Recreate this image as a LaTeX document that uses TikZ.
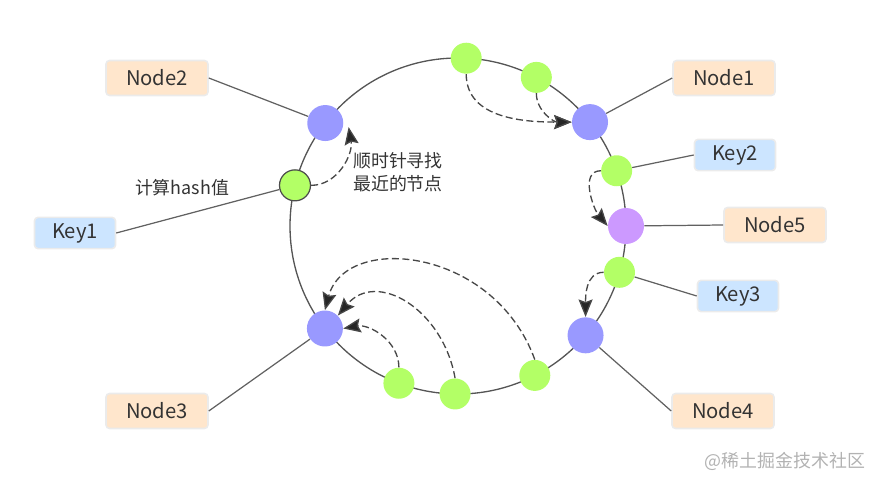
\documentclass[tikz,border=0pt]{standalone}
\usepackage{fontspec}
\setmainfont{Noto Sans CJK SC}
\usetikzlibrary{arrows.meta,calc}
\definecolor{ringink}{HTML}{555555}
\definecolor{textink}{HTML}{333333}
\definecolor{serverblue}{HTML}{9999FF}
\definecolor{hashgreen}{HTML}{B3FF66}
\definecolor{newpurple}{HTML}{CC99FF}
\definecolor{nodefill}{HTML}{FFE6CC}
\definecolor{keyfill}{HTML}{CCE5FF}
\tikzset{
  server/.style={circle, fill=serverblue, minimum size=0.72cm, inner sep=0pt},
  hashpt/.style={circle, fill=hashgreen, minimum size=0.62cm, inner sep=0pt},
  nodebox/.style={rounded corners=2pt, fill=nodefill, draw=black!8, line width=0.9pt,
    minimum width=2.04cm, minimum height=0.7cm, text=textink, font=\fontsize{11.5}{13}\selectfont},
  keybox/.style={nodebox, fill=keyfill, minimum width=1.62cm, minimum height=0.62cm},
  link/.style={draw=black!62, line width=0.7pt},
  walk/.style={draw=black!72, dash pattern=on 4pt off 2pt, line width=0.75pt,
    -{Stealth[length=10pt, width=8pt, inset=1.5pt, fill=black!85]}},
}
\newcommand{\onring}[3]{\node[#1] (#2) at ($(c)+(#3:168)$) {};}

\begin{document}
\begin{tikzpicture}[x=0.02cm, y=0.02cm]

  \useasboundingbox (0,0) rectangle (881,487);
  \coordinate (c) at (458,261);
  \draw[ringink, line width=0.75pt] (c) circle (168);

  \onring{server}{b2}{142.2}
  \onring{hashpt, draw=black!70, line width=0.7pt}{g1}{166}
  \onring{server}{b3}{217.6}
  \onring{hashpt}{g3a}{249.4}
  \onring{hashpt}{g3b}{269}
  \onring{hashpt}{g3c}{297.2}
  \onring{server}{b4}{319.4}
  \onring{hashpt}{gk3}{344}
  \onring{server, fill=newpurple}{p5}{0}
  \onring{hashpt}{gk2}{19.2}
  \onring{server}{b1}{38.2}
  \onring{hashpt}{g1b}{62.2}
  \onring{hashpt}{g1a}{87.2}

  \node[nodebox] (node2) at (157,409) {Node2};
  \node[nodebox] (node1) at (724,409) {Node1};
  \node[keybox] (key1) at (75,254) {Key1};
  \node[keybox] (key2) at (735,332) {Key2};
  \node[nodebox] (node5) at (775,262) {Node5};
  \node[keybox] (key3) at (738,191) {Key3};
  \node[nodebox] (node3) at (157,76) {Node3};
  \node[nodebox] (node4) at (723,76) {Node4};

  \draw[link] (node2.east) -- (b2);
  \draw[link] (key1.east) -- (g1);
  \draw[link] (node3.east) -- (b3);
  \draw[link] (node1.west) -- (b1);
  \draw[link] (key2.west) -- (gk2);
  \draw[link] (node5.west) -- (p5);
  \draw[link] (key3.west) -- (gk3);
  \draw[link] (node4.west) -- (b4);

  \node[text=textink, font=\fontsize{10.2}{12}\selectfont] (hashlbl) at (182,299) {计算hash值};
  \node[text=textink, align=left, font=\fontsize{10.2}{13}\selectfont] (seeklbl) at (398,315) {顺时针寻找\\最近的节点};

  \draw[walk] (g1.east) to[out=0, in=-80] ([shift={(5,-4)}]b2.east);
  \draw[walk] (g1a.south) to[out=-90, in=180] (b1.west);
  \draw[walk] (g1b.south) to[out=-90, in=180] (b1.west);
  \draw[walk] (gk2.west) to[out=180, in=130] (p5.west);
  \draw[walk] (gk3.west) to[out=180, in=90] (b4.north);
  \draw[walk] (g3a.north) to[out=90, in=10] (b3.east);
  \draw[walk] (g3b.north) .. controls +(100:70) and +(50:60) .. (b3.north east);
  \draw[walk] (g3c.north) .. controls +(110:120) and +(75:80) .. (b3.north);

  \node[text=black!30, font=\fontsize{10.2}{12}\selectfont] (mark) at (785,26) {@稀土掘金技术社区};

\end{tikzpicture}
\end{document}
